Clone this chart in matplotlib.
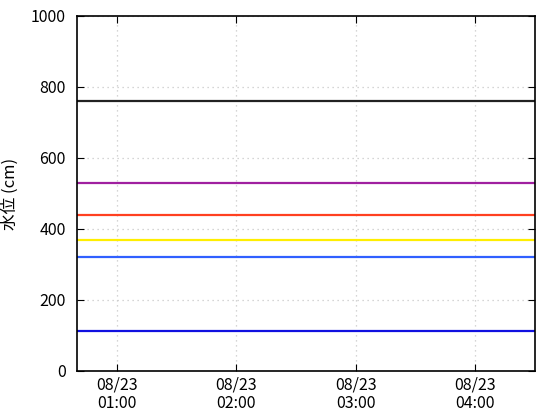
import pandas as pd
import matplotlib
matplotlib.use('Agg')
import matplotlib.pyplot as plt
import matplotlib.dates as mdates

plt.rcParams['font.family'] = ['Noto Sans CJK JP', 'DejaVu Sans']

# time axis range and sample times
times = pd.to_datetime(['2023-08-23 00:40', '2023-08-23 01:30', '2023-08-23 02:30',
                        '2023-08-23 03:30', '2023-08-23 04:30'])
x_ticks = pd.to_datetime(['2023-08-23 01:00', '2023-08-23 02:00',
                          '2023-08-23 03:00', '2023-08-23 04:00'])

# water level lines (cm)
level_black = [760, 760, 760, 760, 760]
level_purple = [530, 530, 530, 530, 530]
level_red = [440, 440, 440, 440, 440]
level_yellow = [370, 370, 370, 370, 370]
level_blue = [320, 320, 320, 320, 320]
level_navy = [112, 112, 112, 112, 112]

fig = plt.figure(figsize=(5.6, 4.2), dpi=100)
ax = fig.add_axes([0.1375, 0.1167, 0.8175, 0.8453])

ax.plot(times, level_black, color='#222222', lw=1.6)
ax.plot(times, level_purple, color='#a020a0', lw=1.6)
ax.plot(times, level_red, color='#ff4020', lw=1.6)
ax.plot(times, level_yellow, color='#ffee00', lw=1.6)
ax.plot(times, level_blue, color='#3060ff', lw=1.6)
ax.plot(times, level_navy, color='#1010e0', lw=1.6)

ax.set_xlim(times[0], times[-1])
ax.set_ylim(0, 1000)
ax.set_yticks([0, 200, 400, 600, 800, 1000])
ax.set_xticks(x_ticks)
ax.xaxis.set_major_formatter(mdates.DateFormatter('%m/%d\n%H:%M'))
ax.tick_params(direction='in', length=5, top=True, right=True, labelsize=11.5)
ax.tick_params(axis='y', pad=8)
ax.tick_params(axis='x', pad=4)
for lab in ax.get_xticklabels():
    lab.set_linespacing(1.15)
ax.grid(True, linestyle=(0, (1, 3)), color='#c8c8c8', lw=0.9)
ax.set_ylabel('水位 (cm)', fontsize=12)
ax.yaxis.set_label_coords(-0.128, 0.5)
for s in ax.spines.values():
    s.set_linewidth(1.2)

plt.savefig('out.png', dpi=100)
plt.close()
